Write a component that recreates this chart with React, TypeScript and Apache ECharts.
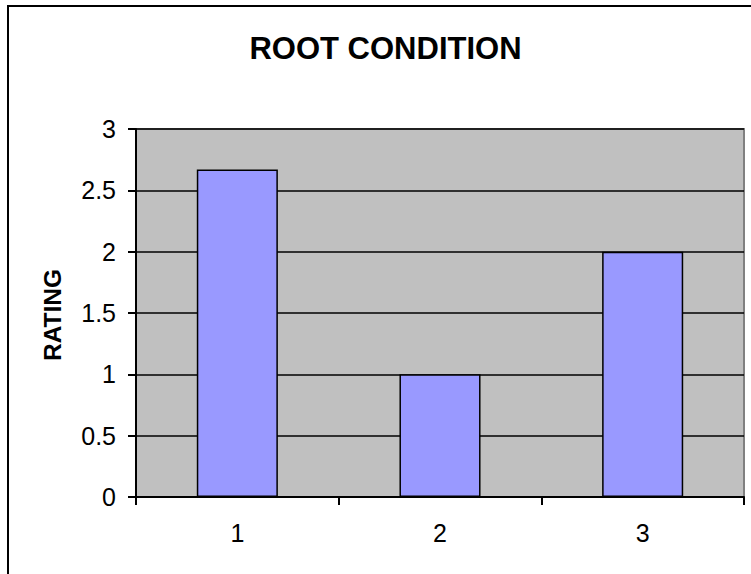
import React, { useEffect, useRef } from "react";
import * as echarts from "echarts";

const categories = ["1", "2", "3"];
const ratings = [2.67, 1, 2];
const titleText = "ROOT CONDITION";
const yAxisName = "RATING";

export default function App() {
  const ref = useRef<HTMLDivElement>(null);
  useEffect(() => {
    if (!ref.current) return;
    const chart = echarts.init(ref.current, null, { renderer: "svg" });
    const font = "Arial, 'Liberation Sans', sans-serif";
    chart.setOption({
      animation: false,
      backgroundColor: "#ffffff",
      grid: {
        left: 136,
        top: 129,
        width: 608,
        height: 368,
        show: true,
        backgroundColor: "#c0c0c0",
        borderColor: "#808080",
        borderWidth: 2,
      },
      graphic: [
        {
          type: "rect",
          shape: { x: 8, y: 6, width: 800, height: 800 },
          style: { fill: "none", stroke: "#000", lineWidth: 2 },
          z: 100,
        },
        {
          type: "text",
          x: 385.5,
          y: 48,
          style: {
            text: titleText,
            font: `bold 31px ${font}`,
            fill: "#000",
            textAlign: "center",
            textVerticalAlign: "middle",
          },
        },
        {
          type: "text",
          x: 52,
          y: 315,
          rotation: Math.PI / 2,
          style: {
            text: yAxisName,
            font: `bold 24.5px ${font}`,
            fill: "#000",
            textAlign: "center",
            textVerticalAlign: "middle",
          },
        },
      ],
      xAxis: {
        type: "category",
        data: categories,
        axisLine: { show: true, lineStyle: { color: "#000", width: 2 } },
        axisTick: { show: true, length: 8, lineStyle: { color: "#000", width: 2 } },
        axisLabel: { color: "#000", fontSize: 25, fontFamily: font, margin: 23 },
        splitLine: { show: false },
      },
      yAxis: {
        type: "value",
        min: 0,
        max: 3,
        interval: 0.5,
        axisLine: { show: true, lineStyle: { color: "#000", width: 2 } },
        axisTick: { show: true, length: 8, lineStyle: { color: "#000", width: 2 } },
        axisLabel: { color: "#000", fontSize: 25, fontFamily: font, margin: 20 },
        splitLine: { show: true, lineStyle: { color: "#000", width: 1.5 } },
      },
      series: [
        {
          type: "bar",
          data: ratings,
          barWidth: "40%",
          itemStyle: { color: "#9999ff", borderColor: "#000", borderWidth: 1.5 },
        },
      ],
    });
    return () => chart.dispose();
  }, []);
  return (
    <div
      ref={ref}
      style={{ position: "fixed", left: 0, top: 0, width: 751, height: 574 }}
    />
  );
}
